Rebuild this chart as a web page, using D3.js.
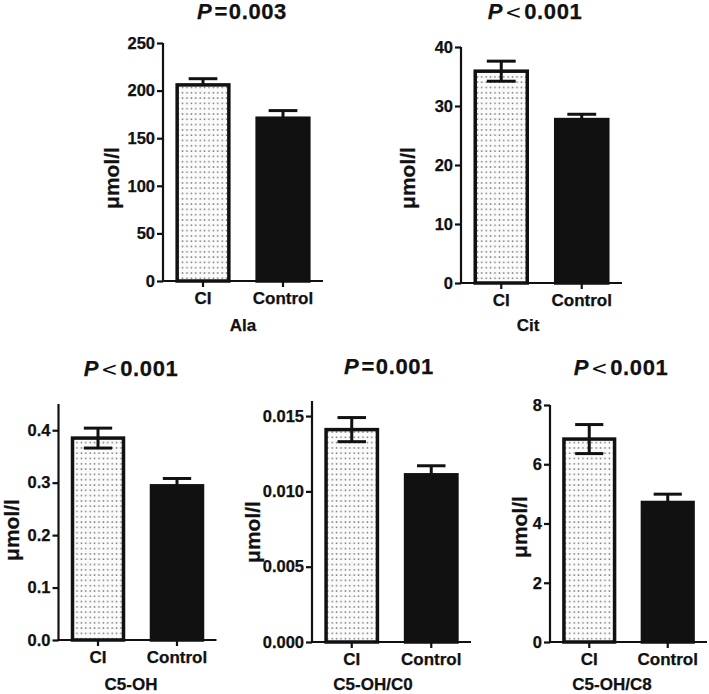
<!DOCTYPE html>
<html>
<head>
<meta charset="utf-8">
<script src="https://cdn.jsdelivr.net/npm/d3@7"></script>
<style>
  html, body { margin: 0; padding: 0; background: #fff; }
  svg { display: block; }
  text { font-family: "Liberation Sans", Arial, sans-serif; font-weight: bold; fill: #111; stroke: #111; stroke-width: 0.25px; }
</style>
</head>
<body>
<svg id="chart" width="709" height="694"></svg>
<script>
// ---- data ----
const categories = ["CI", "Control"];
const analytes = ["Ala", "Cit", "C5-OH", "C5-OH/C0", "C5-OH/C8"];
const pSigns = ["=", "<", "<", "=", "<"];
const pValues = ["0.003", "0.001", "0.001", "0.001", "0.001"];
const meanCI = [206, 35.9, 0.385, 0.0141, 6.85];
const meanControl = [171, 27.7, 0.294, 0.0111, 4.71];
const semCI = [6.5, 1.7, 0.019, 0.0008, 0.49];
const semControl = [8, 0.9, 0.014, 0.0006, 0.28];
const lowerBarShown = [false, true, true, true, true];
const yMax = [250, 40, 0.45, 0.016, 8];
const yTicks = [
  [0, 50, 100, 150, 200, 250],
  [0, 10, 20, 30, 40],
  [0.0, 0.1, 0.2, 0.3, 0.4],
  [0.000, 0.005, 0.010, 0.015],
  [0, 2, 4, 6, 8]
];
const yTickFormats = ["d", "d", ".1f", ".3f", "d"];
const yLabel = "μmol/l";

// ---- layout (pixels) ----
const layout = [
  { x0: 163, y0: 281, yTop: 43,  len: 160, title: [242, 19],  ylab: [112, 178], xlab: [243, 331] },
  { x0: 461, y0: 283, yTop: 47,  len: 161, title: [535, 19],  ylab: [408, 178], xlab: [528, 331] },
  { x0: 58.5, y0: 640, yTop: 404, len: 158, title: [131, 376], ylab: [12, 530],  xlab: [131, 690] },
  { x0: 312, y0: 642, yTop: 401, len: 159, title: [389, 374], ylab: [253, 532], xlab: [373, 690] },
  { x0: 550, y0: 642, yTop: 405, len: 157, title: [621, 375], ylab: [520, 527], xlab: [612, 690] }
];

const svg = d3.select("#chart");
const defs = svg.append("defs");
const pat = defs.append("pattern")
  .attr("id", "dots").attr("patternUnits", "userSpaceOnUse")
  .attr("width", 4.4).attr("height", 5.3);
pat.append("rect").attr("width", 4.4).attr("height", 5.3).attr("fill", "#fbfbfb");
pat.append("rect").attr("x", 1.5).attr("y", 2).attr("width", 1.4).attr("height", 1.4).attr("fill", "#666");

analytes.forEach((name, i) => {
  const L = layout[i];
  const g = svg.append("g");
  const x = d3.scaleBand().domain(categories)
    .range([L.x0, L.x0 + L.len]).paddingInner(0.31).paddingOuter(0.155);
  const y = d3.scaleLinear().domain([0, yMax[i]]).range([L.y0, L.yTop]);

  const means = [meanCI[i], meanControl[i]];
  const sems = [semCI[i], semControl[i]];
  const bw = x.bandwidth();

  // bars
  categories.forEach((c, j) => {
    g.append("rect")
      .attr("x", x(c) + 1.75).attr("y", y(means[j]))
      .attr("width", bw - 3.5).attr("height", L.y0 - y(means[j]))
      .attr("fill", j === 0 ? "url(#dots)" : "#111")
      .attr("stroke", "#111").attr("stroke-width", 3.5);
  });

  // error bars
  categories.forEach((c, j) => {
    const cx = x(c) + bw / 2;
    const capW = bw * 0.52;
    const top = means[j] + sems[j];
    const bot = lowerBarShown[i] ? means[j] - sems[j] : means[j];
    g.append("line").attr("x1", cx).attr("x2", cx)
      .attr("y1", y(top)).attr("y2", y(bot))
      .attr("stroke", "#111").attr("stroke-width", 3);
    g.append("line").attr("x1", cx - capW / 2).attr("x2", cx + capW / 2)
      .attr("y1", y(top)).attr("y2", y(top))
      .attr("stroke", "#111").attr("stroke-width", 3);
    if (lowerBarShown[i]) {
      g.append("line").attr("x1", cx - capW / 2).attr("x2", cx + capW / 2)
        .attr("y1", y(bot)).attr("y2", y(bot))
        .attr("stroke", "#111").attr("stroke-width", 3);
    }
  });

  // y axis
  const yAxis = d3.axisLeft(y).tickValues(yTicks[i])
    .tickFormat(d3.format(yTickFormats[i])).tickSize(6).tickPadding(2).tickSizeOuter(0);
  const ya = g.append("g").attr("transform", `translate(${L.x0},0)`).call(yAxis);
  ya.select(".domain").attr("stroke", "#111").attr("stroke-width", 2.2)
    .attr("d", `M0,${L.y0 + 1}V${L.yTop}`);
  ya.selectAll(".tick line").attr("stroke", "#111").attr("stroke-width", 2.2);
  ya.selectAll(".tick text").attr("font-size", 16.5).attr("font-weight", "bold")
    .attr("font-family", "Liberation Sans, Arial, sans-serif").attr("fill", "#111");

  // x axis
  const xAxis = d3.axisBottom(x).tickSize(6).tickPadding(5).tickSizeOuter(0);
  const xa = g.append("g").attr("transform", `translate(0,${L.y0})`).call(xAxis);
  xa.select(".domain").attr("stroke", "#111").attr("stroke-width", 2.2)
    .attr("d", `M${L.x0 - 1},0H${L.x0 + L.len}`);
  xa.selectAll(".tick line").attr("stroke", "#111").attr("stroke-width", 2.2);
  xa.selectAll(".tick text").attr("font-size", 17).attr("font-weight", "bold")
    .attr("font-family", "Liberation Sans, Arial, sans-serif").attr("fill", "#111");

  // title
  const t = svg.append("text").attr("x", L.title[0]).attr("y", L.title[1])
    .attr("text-anchor", "middle").attr("font-size", 22).attr("letter-spacing", 0.6);
  t.append("tspan").attr("font-style", "italic").text("P");
  if (pSigns[i] === "=") {
    t.append("tspan").attr("dx", 2).text("=");
  } else {
    t.append("tspan").attr("dx", 2).attr("font-family", "DejaVu Sans, sans-serif")
      .attr("font-size", 20).attr("font-weight", "normal").attr("stroke-width", 0)
      .text(pSigns[i]);
  }
  t.append("tspan").attr("dx", pSigns[i] === "=" ? 1 : 2).text(pValues[i]);

  // y label
  svg.append("text")
    .attr("transform", `translate(${L.ylab[0] + 7},${L.ylab[1]}) rotate(-90)`)
    .attr("text-anchor", "middle").attr("font-size", 21).text(yLabel);

  // x label
  svg.append("text").attr("x", L.xlab[0]).attr("y", L.xlab[1])
    .attr("text-anchor", "middle").attr("font-size", 17).text(name);
});
</script>
</body>
</html>
